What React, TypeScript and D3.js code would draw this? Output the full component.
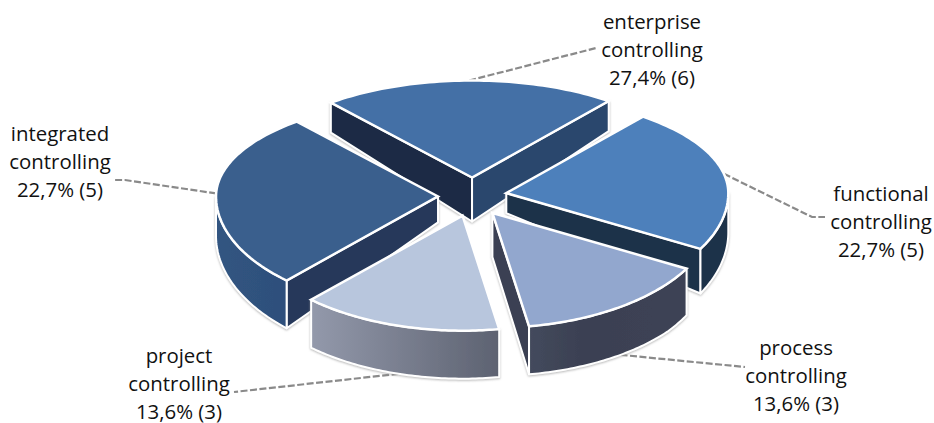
import React from "react";
import * as d3 from "d3";

// Controlling approaches and how many cases fall under each
const categories = ["enterprise", "functional", "process", "project", "integrated"];
const counts = [6, 5, 3, 3, 5];
const shareLabels = ["27,4% (6)", "22,7% (5)", "13,6% (3)", "13,6% (3)", "22,7% (5)"];

const topColors = ["#4470a6", "#4d80bb", "#92a7ce", "#b8c6dd", "#3a5f8d"];
const innerColors = ["#1a2c44", "#1e3049", "#3a4052", "#3a4052", "#26395a"];

const W = 934;
const H = 423;
const centre = { x: 472.5, y: 197 };
const explode = { x: 34.5, y: 19.5 };
const radius = { x: 222, far: 97, near: 115 };

// The tilted camera bends slice edges away from their true angle
const projectedEdges = [-39.5, 38, 119, 170.5, 223, 320.5];
// Wall height measured at each slice's tip
const tipDepth = [44, 20, 44, 44, 26];

// Label block centre and the first line's baseline, with the leader's far end
const labelLayout = [
  { x: 652, y: 29, lx: 596, ly: 48 },
  { x: 881, y: 200.5, lx: 825, ly: 217 },
  { x: 796, y: 355, lx: 745, ly: 367 },
  { x: 179, y: 362.5, lx: 234, ly: 392 },
  { x: 60, y: 141, lx: 114, ly: 180 },
];
const leaderKnee = [null, { x: 812, y: 217 }, null, null, { x: 125, y: 180 }];

const rad = (d: number) => (d * Math.PI) / 180;
const pie = d3.pie<number>().sort(null).startAngle(rad(-49.1)).endAngle(rad(310.9));
const arcs = pie(counts);
const warp = d3
  .scaleLinear()
  .domain([...arcs.map((a) => a.startAngle), arcs[arcs.length - 1].endAngle])
  .range(projectedEdges);

const wallDepth = (y: number) => Math.min(48, Math.max(30, 30 + (y - 103) * 0.1));

type P = [number, number];

const onRim = (tip: P, t: number): P => {
  const c = Math.cos(rad(t));
  return [tip[0] + radius.x * Math.sin(rad(t)), tip[1] - (c > 0 ? radius.far : radius.near) * c];
};

const slices = arcs.map((a, i) => {
  const t0 = warp(a.startAngle);
  const t1 = warp(a.endAngle);
  const mid = (t0 + t1) / 2;
  const tip: P = [
    centre.x + explode.x * Math.sin(rad(mid)),
    centre.y - explode.y * Math.cos(rad(mid)),
  ];
  return { t0, t1, mid, tip, i };
});

const line = d3.line<P>().curve(d3.curveLinear);

const rimPoints = (tip: P, t0: number, t1: number) =>
  d3.range(0, 61).map((k) => onRim(tip, t0 + ((t1 - t0) * k) / 60));

const dropPoints = (pts: P[]): P[] => pts.map(([x, y]) => [x, y + wallDepth(y)]);

const edgeWall = (tip: P, rim: P, depth: number) => {
  const rimBottom: P = [rim[0], rim[1] + wallDepth(rim[1])];
  return line([tip, rim, rimBottom, [tip[0], tip[1] + depth], tip]) ?? "";
};

const outerWall = (tip: P, t0: number, t1: number) => {
  const lo = Math.max(t0, 90);
  const hi = Math.min(t1, 270);
  if (hi <= lo) return null;
  const pts = rimPoints(tip, lo, hi);
  return (line([...pts, ...dropPoints(pts).reverse()]) ?? "") + "Z";
};

const topFace = (tip: P, t0: number, t1: number) =>
  (line([tip, ...rimPoints(tip, t0, t1)]) ?? "") + "Z";

const outerFill = ["none", "#1e3049", "url(#processWall)", "url(#projectWall)", "url(#integratedWall)"];

const drawOrder = [0, 1, 4, 2, 3];

export default function App() {
  return (
    <svg
      width={W}
      height={H}
      viewBox={`0 0 ${W} ${H}`}
      style={{ position: "absolute", left: 0, top: 0, background: "#fff" }}
      fontFamily="'Open Sans', sans-serif"
    >
      <defs>
        <linearGradient id="projectWall" x1="0" x2="1" y1="0" y2="0">
          <stop offset="0" stopColor="#9399ab" />
          <stop offset="1" stopColor="#5d6271" />
        </linearGradient>
        <linearGradient id="processWall" x1="0" x2="1" y1="0" y2="0">
          <stop offset="0" stopColor="#444a5d" />
          <stop offset="0.35" stopColor="#3a4052" />
          <stop offset="1" stopColor="#3e4355" />
        </linearGradient>
        <linearGradient id="integratedWall" x1="0" x2="1" y1="0" y2="0">
          <stop offset="0" stopColor="#315581" />
          <stop offset="1" stopColor="#2e4f7b" />
        </linearGradient>
        <filter id="wallShadow" x="-10%" y="-10%" width="120%" height="120%">
          <feDropShadow dx="0" dy="1" stdDeviation="1" floodColor="#999" floodOpacity="0.7" />
        </filter>
      </defs>

      {labelLayout.map((l, i) => {
        const s = slices[i];
        const drop = i === 2 || i === 3;
        const rim = onRim(s.tip, s.mid);
        const start: P = drop ? [rim[0], rim[1] + wallDepth(rim[1])] : rim;
        const knee = leaderKnee[i];
        const pts: P[] = knee ? [start, [knee.x, knee.y], [l.lx, l.ly]] : [start, [l.lx, l.ly]];
        return (
          <path
            key={categories[i]}
            d={line(pts) ?? ""}
            fill="none"
            stroke="#8a8a8a"
            strokeWidth={2.2}
            strokeDasharray="7 2.5"
          />
        );
      })}

      {drawOrder.map((i) => {
        const s = slices[i];
        const rim0 = onRim(s.tip, s.t0);
        const rim1 = onRim(s.tip, s.t1);
        const outer = outerWall(s.tip, s.t0, s.t1);
        return (
          <g key={categories[i]}>
            <g filter="url(#wallShadow)" stroke="#fff" strokeWidth={2} strokeLinejoin="round">
              {i === 0 && (
                <path d={edgeWall(s.tip, rim0, tipDepth[i])} fill={innerColors[i]} />
              )}
              {i === 0 && <path d={edgeWall(s.tip, rim1, tipDepth[i])} fill="#2b476d" />}
              {(i === 1 || i === 4) && (
                <path d={edgeWall(s.tip, i === 1 ? rim1 : rim0, tipDepth[i])} fill={innerColors[i]} />
              )}
              {i === 2 && <path d={edgeWall(s.tip, rim1, tipDepth[i])} fill={innerColors[i]} />}
              {outer && <path d={outer} fill={outerFill[i]} />}
            </g>
            <path
              d={topFace(s.tip, s.t0, s.t1)}
              fill={topColors[i]}
              stroke="#fff"
              strokeWidth={2.5}
              strokeLinejoin="miter"
            />
          </g>
        );
      })}

      {labelLayout.map((l, i) => (
        <text key={categories[i]} x={l.x} y={l.y} textAnchor="middle" fontSize={20.4} fill="#111">
          <tspan x={l.x}>{categories[i]}</tspan>
          <tspan x={l.x} dy={28}>controlling</tspan>
          <tspan x={l.x} dy={28}>{shareLabels[i]}</tspan>
        </text>
      ))}
    </svg>
  );
}
